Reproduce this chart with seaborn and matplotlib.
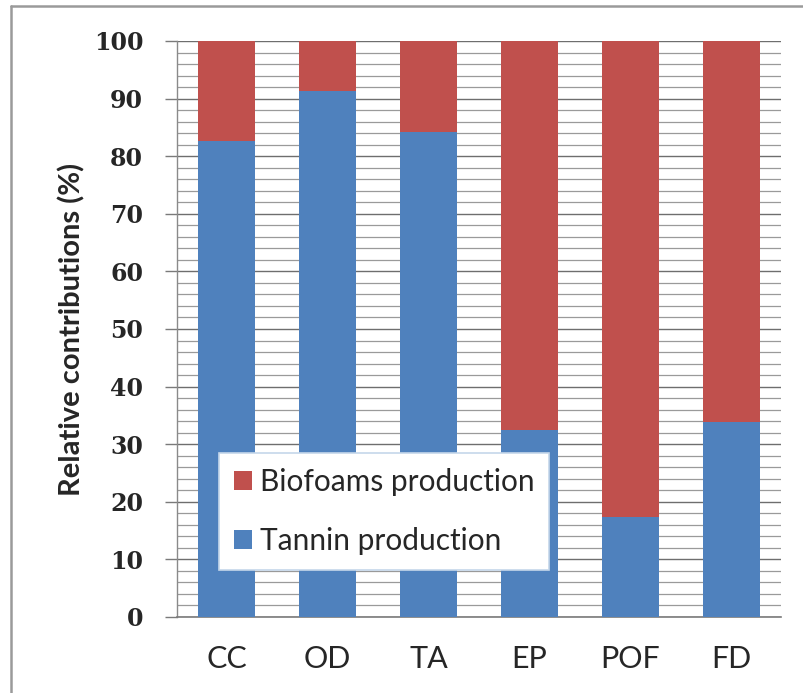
import matplotlib
matplotlib.use("Agg")
import matplotlib.pyplot as plt
from matplotlib.lines import Line2D
from matplotlib.patches import Patch
import seaborn as sns
import pandas as pd

# Relative contributions (%) of each production stage per impact category
categories = ["CC", "OD", "TA", "EP", "POF", "FD"]
tannin = [82.7, 91.3, 84.2, 32.4, 17.4, 33.8]
biofoams = [17.3, 8.7, 15.8, 67.6, 82.6, 66.2]
series_names = ["Biofoams production", "Tannin production"]
y_ticks = [0, 10, 20, 30, 40, 50, 60, 70, 80, 90, 100]
y_minor = list(range(0, 101, 2))

df = pd.DataFrame({"category": categories, "tannin": tannin, "biofoams": biofoams})
df["total"] = df["tannin"] + df["biofoams"]

blue = "#4F81BD"
red = "#C0504D"

sns.set_style("white")
plt.rcParams["font.family"] = ["Lato", "DejaVu Sans"]

W, H = 804, 693
fig = plt.figure(figsize=(W / 100, H / 100), dpi=100)
ax = fig.add_axes([176.5 / W, (H - 617) / H, 605 / W, 576 / H])

# stacked bars: full height in red, tannin share on top in blue
sns.barplot(data=df, x="category", y="total", color=red, saturation=1,
            width=0.565, ax=ax, zorder=3, linewidth=0)
sns.barplot(data=df, x="category", y="tannin", color=blue, saturation=1,
            width=0.565, ax=ax, zorder=4, linewidth=0)

ax.set_xlim(-0.5, 5.5)
ax.set_ylim(0, 100)
ax.set_yticks(y_minor, minor=True)
ax.set_yticks(y_ticks)
ax.set_yticklabels([str(v) for v in y_ticks], fontfamily=["DejaVu Serif"],
                   fontsize=17, fontweight="bold")
ax.grid(axis="y", which="major", color="#6e6e6e", linewidth=1.0, zorder=0)
ax.grid(axis="y", which="minor", color="#9a9a9a", linewidth=0.9, zorder=0)
ax.set_axisbelow(True)

for s in ["top", "right"]:
    ax.spines[s].set_visible(False)
ax.spines["left"].set_color("#8a8a8a")
ax.spines["left"].set_linewidth(1.0)
ax.spines["bottom"].set_color("#7a7a7a")
ax.spines["bottom"].set_linewidth(1.2)

ax.tick_params(axis="y", which="major", direction="out", length=9, width=1,
               color="#7a7a7a", pad=15, left=True)
ax.tick_params(axis="y", which="minor", length=0)
ax.tick_params(axis="x", length=0, pad=20, labelsize=22)

ax.set_xlabel("")
ax.set_ylabel("Relative contributions (%)", fontsize=21, fontweight="bold", labelpad=6)

handles = [Patch(facecolor=red, edgecolor="none"), Patch(facecolor=blue, edgecolor="none")]
leg = ax.legend(handles, series_names, loc="upper left",
                bbox_to_anchor=((219 - 176.5) / 605, (617 - 453) / 576),
                fontsize=21.5, frameon=True, fancybox=False, framealpha=1,
                edgecolor="#c5d7ea", handlelength=0.62, handleheight=0.62,
                handletextpad=0.25, labelspacing=1.05, borderpad=0.5,
                borderaxespad=0)
leg.get_frame().set_linewidth(1.2)
leg.set_zorder(6)

# outer frame of the chart area (top and left edges)
fig.add_artist(Line2D([11 / W, 11 / W], [0, 1 - 6 / H], transform=fig.transFigure,
                      color="#9a9a9a", linewidth=1.8))
fig.add_artist(Line2D([11 / W, 1], [1 - 6 / H, 1 - 6 / H], transform=fig.transFigure,
                      color="#9a9a9a", linewidth=1.8))

fig.savefig("out.png", dpi=100, facecolor="white")
